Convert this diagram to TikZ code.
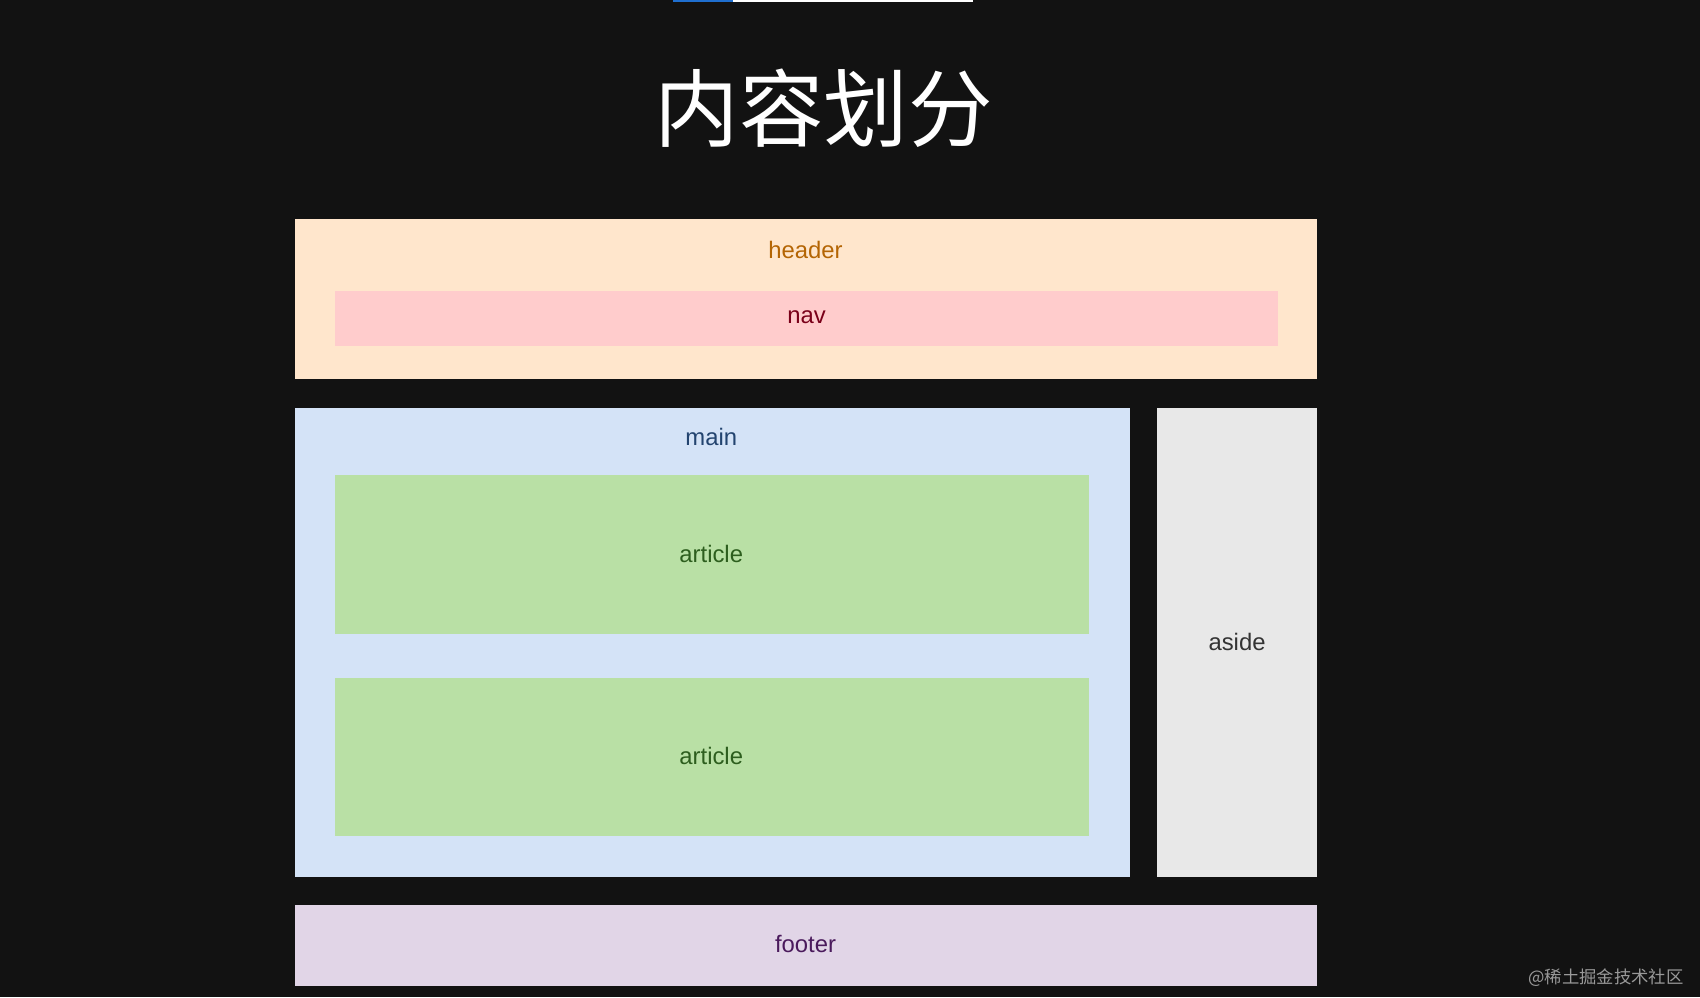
\documentclass[tikz,border=0pt]{standalone}
\usepackage{fontspec}
\setmainfont{Liberation Sans}
\newfontfamily\cjk{Noto Sans CJK SC}
\definecolor{bg}{HTML}{121212}
\definecolor{hdrF}{HTML}{FFE6CC}\definecolor{hdrT}{HTML}{B46504}
\definecolor{navF}{HTML}{FFCCCC}\definecolor{navT}{HTML}{7A0019}
\definecolor{mainF}{HTML}{D4E3F7}\definecolor{mainT}{HTML}{23446F}
\definecolor{artF}{HTML}{B9E0A5}\definecolor{artT}{HTML}{2D5E1E}
\definecolor{asiF}{HTML}{E8E8E8}\definecolor{asiT}{HTML}{333333}
\definecolor{fotF}{HTML}{E1D5E7}\definecolor{fotT}{HTML}{4A1A5C}
\definecolor{barB}{HTML}{1F6FD0}
\begin{document}
\begin{tikzpicture}[x=0.5pt,y=-0.5pt,
  lbl/.style={font=\fontsize{11}{13}\selectfont}]
\fill[bg] (0,0) rectangle (1568,920);
\useasboundingbox (0,0) rectangle (1568,920);
\fill[barB] (621,0) rectangle (676,2);
\fill[white] (676,0) rectangle (897,2);
\node[text=white,font=\cjk\fontsize{39}{42}\selectfont] (title) at (760,100) {内容划分};
\fill[hdrF] (272,202) rectangle (1215,350);
\node[lbl,text=hdrT] (header) at (743,231) {header};
\fill[navF] (309,268) rectangle (1179,319);
\node[lbl,text=navT] (nav) at (744,293) {nav};
\fill[mainF] (272,376) rectangle (1042,809);
\node[lbl,text=mainT] (main) at (656,403) {main};
\fill[artF] (309,438) rectangle (1004,585);
\node[lbl,text=artT] (art1) at (656,511) {article};
\fill[artF] (309,625) rectangle (1004,771);
\node[lbl,text=artT] (art2) at (656,697) {article};
\fill[asiF] (1067,376) rectangle (1215,809);
\node[lbl,text=asiT] (aside) at (1141,592) {aside};
\fill[fotF] (272,835) rectangle (1215,909);
\node[lbl,text=fotT] (footer) at (743,871) {footer};
\node[text=gray!80,font=\cjk\fontsize{8}{10}\selectfont,anchor=east] (wm) at (1560,902) {@稀土掘金技术社区};
\end{tikzpicture}
\end{document}
